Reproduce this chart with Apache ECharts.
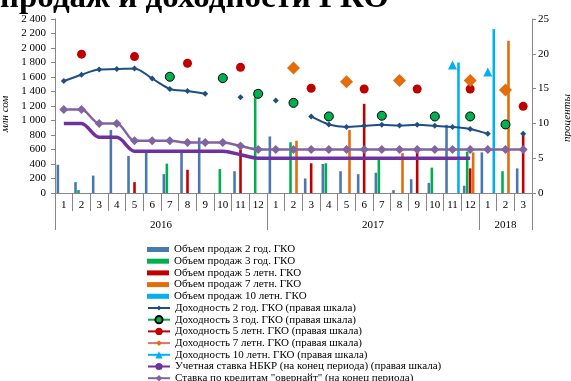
<!DOCTYPE html>
<html>
<head>
<meta charset="utf-8">
<script src="https://cdn.jsdelivr.net/npm/echarts@6/dist/echarts.min.js"></script>
<style>
  html, body { margin: 0; padding: 0; background: #fff; }
  #chart { width: 571px; height: 381px; }
</style>
</head>
<body>
<div id="chart"></div>
<script>
// Months (2016: Jan–Dec, 2017: Jan–Dec, 2018: Jan–Mar)
const months = ['1','2','3','4','5','6','7','8','9','10','11','12',
                '1','2','3','4','5','6','7','8','9','10','11','12',
                '1','2','3'];
const years = ['2016', '2017', '2018'];
const yearLengths = [12, 12, 3];

// Sales volume, mln som (left scale)
const sales2  = [390, 150, 240, 870, 510, 580, 260, 560, 765, null, 300, null, 780, null, 200, 400, 300, 260, 280, 40, 190, 140, 940, 100, 560, null, 340];
const sales3  = [null, 40, null, null, null, null, 405, null, null, 330, null, 1420, null, 700, null, 410, null, null, 460, null, null, 350, null, 570, null, 300, null];
const sales5  = [null, null, null, null, 150, null, null, 320, null, null, 600, null, null, null, 410, null, null, 1230, null, null, 600, null, null, 340, null, null, 820];
const sales7  = [null, null, null, null, null, null, null, null, null, null, null, null, null, 720, null, null, 870, null, null, 550, null, null, null, 560, null, 2100, null];
const sales10 = [null, null, null, null, null, null, null, null, null, null, null, null, null, null, null, null, null, null, null, null, null, null, 1800, null, 2260, null, null];

// Yields and rates, % (right scale)
const yield2  = [16.1, 17.0, 17.75, 17.8, 17.9, 16.45, 14.95, 14.65, 14.25, null, 13.75, null, 13.3, null, 11.0, 9.85, 9.5, 9.65, 9.8, 9.7, 9.8, 9.65, 9.5, 9.2, 8.5, null, 8.5];
const yield3  = [null, null, null, null, null, null, 16.7, null, null, 16.5, null, 14.25, null, 12.95, null, 11.0, null, null, 11.1, null, null, 11.0, null, 11.0, null, 9.85, null];
const yield5  = [null, 19.95, null, null, 19.6, null, null, 18.65, null, null, 18.05, null, null, null, 15.05, null, null, 14.95, null, null, 14.95, null, null, 14.95, null, null, 12.45];
const yield7  = [null, null, null, null, null, null, null, null, null, null, null, null, null, 17.95, null, null, 16.0, null, null, 16.15, null, null, null, 16.15, null, 14.8, null];
const yield10 = [null, null, null, null, null, null, null, null, null, null, null, null, null, null, null, null, null, null, null, null, null, null, 18.4, null, 17.4, null, null];
const nbkrRate      = [10, 10, 8, 8, 6, 6, 6, 6, 6, 6, 5.5, 5, 5, 5, 5, 5, 5, 5, 5, 5, 5, 5, 5, 5, null, null, null];
const overnightRate = [12, 12, 10, 10, 7.5, 7.5, 7.5, 7.25, 7.25, 7.25, 6.75, 6.25, 6.25, 6.25, 6.25, 6.25, 6.25, 6.25, 6.25, 6.25, 6.25, 6.25, 6.25, 6.25, 6.25, 6.25, 6.25];

const leftTicks  = { min: 0, max: 2400, interval: 200 };
const rightTicks = { min: 0, max: 25, interval: 5 };

const FONT = 'Liberation Serif';
const AXIS_GREY = '#868686';

const grid = { left: 55, right: 39, top: 19, bottom: 188 };
const catW = (571 - grid.left - grid.right) / months.length;

// year label sits in the middle of its block of months
const yearStarts = [];
let acc = 0;
yearLengths.forEach(n => { yearStarts.push(acc); acc += n; });
const yearLabelIdx = yearStarts.map((s, k) => s + Math.floor((yearLengths[k] - 1) / 2));

const barStyle = (color) => ({ color: color });

const series = [
  { name: 'Объем продаж 2 год. ГКО',  type: 'bar', data: sales2,  itemStyle: barStyle('#4A78B0') },
  { name: 'Объем продаж 3 год. ГКО',  type: 'bar', data: sales3,  itemStyle: barStyle('#00B050') },
  { name: 'Объем продаж 5 летн. ГКО', type: 'bar', data: sales5,  itemStyle: barStyle('#C00000') },
  { name: 'Объем продаж 7 летн. ГКО', type: 'bar', data: sales7,  itemStyle: barStyle('#E46C0A') },
  { name: 'Объем продаж 10 летн. ГКО', type: 'bar', data: sales10, itemStyle: barStyle('#00B0F0') },
  { name: 'Доходность 2 год. ГКО (правая шкала)', type: 'line', yAxisIndex: 1, data: yield2,
    symbol: 'diamond', symbolSize: 6, smooth: 0.3,
    itemStyle: { color: '#1F4E85' }, lineStyle: { color: '#1F4E85', width: 2 } },
  { name: 'Доходность 3 год. ГКО (правая шкала)', type: 'line', yAxisIndex: 1, data: yield3,
    symbol: 'circle', symbolSize: 9,
    itemStyle: { color: '#00B050', borderColor: '#000', borderWidth: 1 }, lineStyle: { color: '#00B050', width: 3 } },
  { name: 'Доходность 5 летн. ГКО (правая шкала)', type: 'line', yAxisIndex: 1, data: yield5,
    symbol: 'circle', symbolSize: 9,
    itemStyle: { color: '#C00000' }, lineStyle: { color: '#C00000', width: 3 } },
  { name: 'Доходность 7 летн. ГКО (правая шкала)', type: 'line', yAxisIndex: 1, data: yield7,
    symbol: 'diamond', symbolSize: 13,
    itemStyle: { color: '#E46C0A' }, lineStyle: { color: '#E07270', width: 3 } },
  { name: 'Доходность 10 летн. ГКО (правая шкала)', type: 'line', yAxisIndex: 1, data: yield10,
    symbol: 'triangle', symbolSize: 9,
    itemStyle: { color: '#00B0F0' }, lineStyle: { color: '#00B0F0', width: 3 } },
  { name: 'Учетная ставка НБКР (на конец периода) (правая шкала)', type: 'line', yAxisIndex: 1, data: nbkrRate,
    symbol: 'none', smooth: 0.3,
    itemStyle: { color: '#7030A0' }, lineStyle: { color: '#7030A0', width: 3.5 } },
  { name: 'Ставка по кредитам "овернайт" (на конец периода)', type: 'line', yAxisIndex: 1, data: overnightRate,
    symbol: 'diamond', symbolSize: 9, smooth: 0.3,
    itemStyle: { color: '#8064A2' }, lineStyle: { color: '#8064A2', width: 2.5 } }
];

series.forEach(s => {
  s.animation = false;
  s.emphasis = { disabled: true };
  if (s.type === 'bar') {
    s.barWidth = 2.6;
    s.barGap = '15%';
  } else {
    s.showAllSymbol = true;
    s.connectNulls = false;
  }
});

// one legend block per row so the rows keep an even pitch
const legendIconH = [5, 5, 5, 5, 5, 6, 9, 9, 7, 9, 9, 8];
const legend = series.map((s, k) => ({
  data: [s.name],
  left: 147,
  top: 243.5 + k * 11.7,
  orient: 'vertical',
  padding: 0,
  itemGap: 0,
  itemWidth: 22,
  itemHeight: legendIconH[k],
  icon: s.type === 'bar' ? 'rect' : undefined,
  selectedMode: false,
  textStyle: { fontFamily: FONT, fontSize: 11, color: '#000', lineHeight: 12 }
}));

const thousands = v => String(v).replace(/\B(?=(\d{3})+(?!\d))/g, ' ');

const option = {
  animation: false,
  backgroundColor: '#fff',
  title: {
    text: 'продаж и доходности ГКО',
    left: 0, top: -18, padding: 0,
    textStyle: { fontFamily: FONT, fontWeight: 'bold', fontSize: 33, color: '#000' }
  },
  grid: Object.assign({ outerBoundsMode: 'none', containLabel: false }, grid),
  legend: legend,
  xAxis: [
    {
      type: 'category', data: months, position: 'bottom',
      axisLine: { lineStyle: { color: AXIS_GREY, width: 1 } },
      axisTick: { show: true, interval: 0, length: 18, lineStyle: { color: AXIS_GREY } },
      axisLabel: { interval: 0, margin: 7, fontFamily: FONT, fontSize: 11, color: '#000' },
      splitLine: { show: false }
    },
    {
      type: 'category', data: months, position: 'bottom', offset: 0,
      axisLine: { show: false },
      axisTick: { show: true, length: 37, lineStyle: { color: AXIS_GREY },
                  interval: (i) => yearStarts.indexOf(i) >= 0 },
      axisLabel: {
        interval: (i) => yearLabelIdx.indexOf(i) >= 0,
        margin: 27,
        formatter: (v, i) => {
          const k = yearLabelIdx.indexOf(i);
          if (k < 0) return '';
          return yearLengths[k] % 2 === 0 ? '{s|' + years[k] + '}' : '{p|' + years[k] + '}';
        },
        rich: {
          s: { padding: [0, 0, 0, catW], fontFamily: FONT, fontSize: 11, color: '#000' },
          p: { fontFamily: FONT, fontSize: 11, color: '#000' }
        }
      },
      splitLine: { show: false }
    }
  ],
  yAxis: [
    {
      type: 'value', position: 'left',
      min: leftTicks.min, max: leftTicks.max, interval: leftTicks.interval,
      name: 'млн сом', nameLocation: 'middle', nameRotate: 90, nameGap: 39,
      nameTextStyle: { fontFamily: FONT, fontSize: 11, fontStyle: 'italic', color: '#000', padding: [0, 16, 0, 0] },
      axisLine: { show: true, lineStyle: { color: AXIS_GREY } },
      axisTick: { show: true, length: 4, lineStyle: { color: AXIS_GREY } },
      axisLabel: { margin: 9, fontFamily: FONT, fontSize: 11, color: '#000', formatter: thousands },
      splitLine: { show: false }
    },
    {
      type: 'value', position: 'right', alignTicks: false,
      min: rightTicks.min, max: rightTicks.max, interval: rightTicks.interval,
      name: 'проценты', nameLocation: 'middle', nameRotate: 90, nameGap: 30,
      nameTextStyle: { fontFamily: FONT, fontSize: 11, fontStyle: 'italic', color: '#000', padding: [0, 24, 0, 0] },
      axisLine: { show: true, lineStyle: { color: AXIS_GREY } },
      axisTick: { show: true, length: 4, lineStyle: { color: AXIS_GREY } },
      axisLabel: { margin: 6, fontFamily: FONT, fontSize: 11, color: '#000' },
      splitLine: { show: false }
    }
  ],
  series: series
};

const chart = echarts.init(document.getElementById('chart'), null, { renderer: 'canvas' });
chart.setOption(option);
</script>
</body>
</html>
